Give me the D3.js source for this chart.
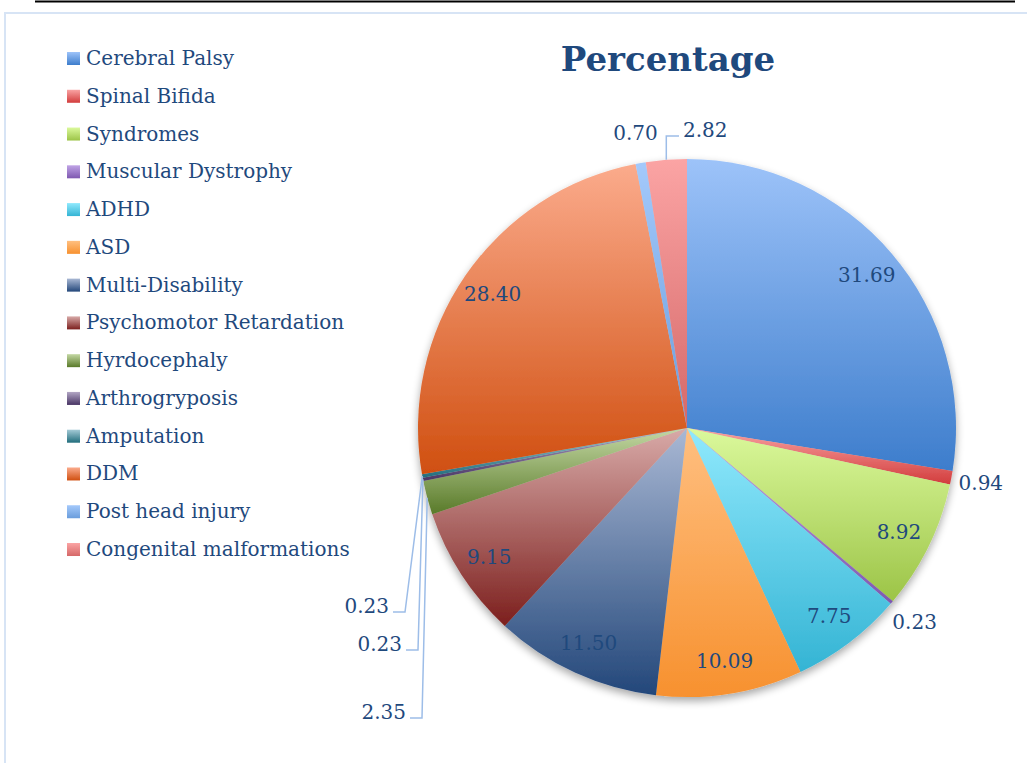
<!DOCTYPE html>
<html>
<head>
	<meta charset="utf-8">
	<title>Percentage</title>
	<script src="https://d3js.org/d3.v7.min.js"></script>
	<style>
		body { margin: 0; background: #fff; }
		text { font-family: 'DejaVu Serif', serif; }
	</style>
</head>
<body>
	<div class="chart"></div>

	<script type="text/javascript">

		// categories
		const categories = ['Cerebral Palsy', 'Spinal Bifida', 'Syndromes', 'Muscular Dystrophy', 'ADHD', 'ASD',
			'Multi-Disability', 'Psychomotor Retardation', 'Hyrdocephaly', 'Arthrogryposis', 'Amputation', 'DDM',
			'Post head injury', 'Congenital malformations']

		// values (percentage)
		const values = [31.69, 0.94, 8.92, 0.23, 7.75, 10.09, 11.50, 9.15, 2.35, 0.23, 0.23, 28.40, 0.70, 2.82]

		// gradient colours: light top, base bottom
		const topColors = ['#9dc3f9', '#f9a3a3', '#dbf99c', '#c0a4e6', '#90e9fd', '#ffbf80', '#a9b8d4', '#d8aaa8',
			'#c4d8a4', '#b2a6c4', '#a4cad6', '#fbab8c', '#a4c9fb', '#fba4a4']
		const bottomColors = ['#3d7dcc', '#d23c3c', '#9cc447', '#7e58b0', '#34b4d4', '#f7912f', '#23477a', '#7c1f1d',
			'#597a29', '#483464', '#216d7c', '#d04f10', '#6a9ddc', '#d56868']

		var width = 1027
		var height = 763

		var svg = d3
			.select('.chart')
			.append('svg')
			.attr('width', width)
			.attr('height', height)

		var defs = svg.append('defs')

		categories.forEach((c, i) => {
			const g = defs.append('linearGradient')
				.attr('id', `grad-${i}`)
				.attr('x1', 0).attr('y1', 0).attr('x2', 0).attr('y2', 1)
			g.append('stop').attr('offset', '0%').attr('stop-color', topColors[i])
			g.append('stop').attr('offset', '100%').attr('stop-color', bottomColors[i])
		})

		// pie shadow
		const shadow = defs.append('filter').attr('id', 'shadow')
			.attr('x', '-20%').attr('y', '-20%').attr('width', '140%').attr('height', '140%')
		shadow.append('feGaussianBlur').attr('in', 'SourceAlpha').attr('stdDeviation', 4)
		shadow.append('feOffset').attr('dx', 0).attr('dy', 4).attr('result', 'blur')
		shadow.append('feComponentTransfer').append('feFuncA').attr('type', 'linear').attr('slope', 0.35)
		const merge = shadow.append('feMerge')
		merge.append('feMergeNode')
		merge.append('feMergeNode').attr('in', 'SourceGraphic')

		/**
		 * frame
		 */
		svg.append('line')
			.attr('x1', 35).attr('x2', 1015).attr('y1', 1.5).attr('y2', 1.5)
			.attr('stroke', '#000').attr('stroke-width', 2)
		svg.append('path')
			.attr('d', `M5,${height} V13 H${width}`)
			.attr('fill', 'none')
			.attr('stroke', '#d7e4f5')
			.attr('stroke-width', 2)

		const textColor = '#1f497d'

		/**
		 * title
		 */
		svg.append('text')
			.attr('x', 668)
			.attr('y', 71)
			.attr('text-anchor', 'middle')
			.attr('fill', textColor)
			.style('font-size', '34px')
			.style('font-weight', 'bold')
			.text('Percentage')

		/**
		 * legend
		 */
		const legend = svg.append('g').attr('transform', 'translate(67, 58)')
		const item = legend.selectAll('g')
			.data(categories)
			.enter()
			.append('g')
			.attr('transform', (d, i) => `translate(0, ${i * 37.77})`)

		item.append('rect')
			.attr('x', 0).attr('y', -6)
			.attr('width', 13).attr('height', 13)
			.attr('fill', (d, i) => `url(#grad-${i})`)

		item.append('text')
			.attr('x', 19)
			.attr('y', 0)
			.attr('dy', '0.35em')
			.attr('fill', textColor)
			.style('font-size', '20px')
			.text((d) => d)

		/**
		 * pie
		 */
		const cx = 687, cy = 428, radius = 269

		const pie = d3.pie().sort(null).value((d) => d)
		const arcs = pie(values)
		const arc = d3.arc().innerRadius(0).outerRadius(radius)

		const chart = svg.append('g').attr('transform', `translate(${cx}, ${cy})`)

		chart.append('g')
			.attr('filter', 'url(#shadow)')
			.selectAll('path')
			.data(arcs)
			.enter()
			.append('path')
			.attr('d', arc)
			.attr('fill', (d, i) => `url(#grad-${i})`)

		// labels
		const insideArc = d3.arc().innerRadius(236).outerRadius(236)
		const outsideArc = d3.arc().innerRadius(radius + 30).outerRadius(radius + 30)
		const edgeArc = d3.arc().innerRadius(radius).outerRadius(radius)

		// labels moved off the pie with a leader: elbow offset from the pie centre, side of text
		const callouts = {
			8: { dx: -265, dy: 290, side: 'left' },
			9: { dx: -269, dy: 222, side: 'left' },
			10: { dx: -282, dy: 184, side: 'left' },
			13: { dx: -20, dy: -292, side: 'right' }
		}

		const labels = chart.append('g')
		arcs.forEach((d, i) => {
			const text = d.data.toFixed(2)
			if (callouts[i]) {
				const c = callouts[i]
				const p = edgeArc.centroid(d)
				const endX = c.side === 'left' ? c.dx - 12 : c.dx + 12
				let path
				if (c.side === 'left') path = `M${p[0]},${p[1]} L${c.dx},${c.dy} L${endX},${c.dy}`
				else path = `M${p[0]},${p[1]} L${p[0]},${c.dy} L${endX},${c.dy}`
				labels.append('path')
					.attr('d', path)
					.attr('fill', 'none')
					.attr('stroke', '#9dbde8')
					.attr('stroke-width', 1.5)
				labels.append('text')
					.attr('x', c.side === 'left' ? endX - 4 : endX + 4)
					.attr('y', c.dy - 6)
					.attr('dy', '0.35em')
					.attr('text-anchor', c.side === 'left' ? 'end' : 'start')
					.attr('fill', textColor)
					.style('font-size', '20px')
					.text(text)
			} else {
				const pos = d.data >= 5 ? insideArc.centroid(d) : outsideArc.centroid(d)
				labels.append('text')
					.attr('x', pos[0])
					.attr('y', pos[1])
					.attr('dy', '0.35em')
					.attr('text-anchor', 'middle')
					.attr('fill', textColor)
					.style('font-size', '20px')
					.text(text)
			}
		})

	</script>
</body>
</html>
